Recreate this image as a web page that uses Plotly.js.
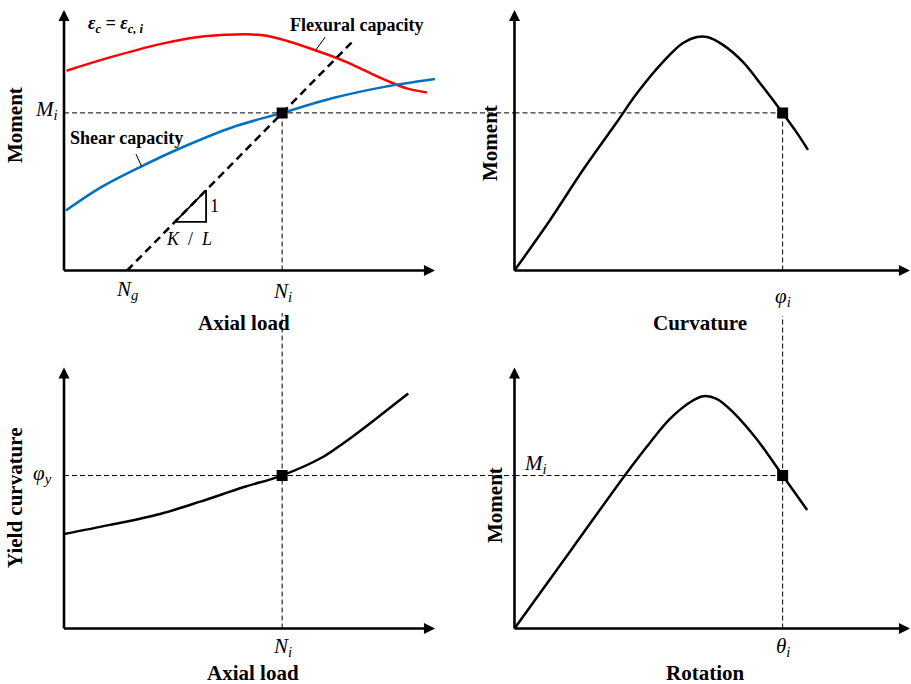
<!DOCTYPE html>
<html>
<head>
<meta charset="utf-8">
<script src="https://cdn.plot.ly/plotly-3.0.1.min.js"></script>
<style>html,body{margin:0;padding:0;background:#fff;}#chart{width:911px;height:684px;}</style>
</head>
<body>
<div id="chart"></div>
<script>
// ---- data (schematic units, 0..10 on every axis) ----
const flexX = [0.07, 1.24, 2.59, 3.67, 4.39, 4.92, 5.46, 6.0, 6.54, 7.08, 7.62, 8.16, 8.7, 9.24, 9.78];
const flexY = [7.67, 8.18, 8.69, 8.97, 9.05, 9.07, 9.01, 8.82, 8.57, 8.3, 8.0, 7.64, 7.29, 6.99, 6.83];
const shearX = [0.05, 0.97, 2.05, 3.21, 4.56, 5.88, 7.25, 8.6, 10.0];
const shearY = [2.3, 3.17, 3.97, 4.74, 5.51, 6.05, 6.62, 7.04, 7.35];
const Ng = 1.7, Ni = 5.88, Mi = 6.05;
const kX = [Ng, Ni, 7.75];
const kY = [0, Mi, 8.75];
const triX = [2.99, 3.83, 3.83, 2.99];
const triY = [1.87, 1.87, 3.08, 1.87];

const curvX = [0, 0.9, 1.73, 2.59, 3.1, 3.75, 4.26, 4.61, 4.87, 5.27, 5.78, 6.28, 6.78, 7.12, 7.42];
const curvY = [0, 1.94, 3.86, 5.7, 6.81, 8.0, 8.73, 8.96, 8.96, 8.66, 8.0, 7.05, 6.05, 5.33, 4.63];
const phiI = 6.78;

const ycX = [0, 1.24, 2.59, 3.67, 4.83, 5.87, 6.99, 7.53, 7.98, 8.52, 9.28];
const ycY = [3.62, 3.97, 4.39, 4.86, 5.41, 5.86, 6.58, 7.1, 7.57, 8.16, 9.0];
const phiY = 5.86;

const rotX = [0, 1.4, 2.84, 3.43, 3.93, 4.44, 4.77, 5.11, 5.53, 6.12, 6.78, 7.4];
const rotY = [0, 2.94, 5.97, 7.13, 8.03, 8.67, 8.9, 8.8, 8.28, 7.26, 5.86, 4.54];
const thetaI = 6.78, Mi2 = 5.86;

const axisMax = 10;

// ---- layout geometry ----
const W = 911, H = 684;
const col1 = [64 / W, 435 / W];
const col2 = [514.5 / W, 910 / W];
const row1 = [1 - 270.5 / H, 1 - 10 / H];
const row2 = [1 - 628.5 / H, 1 - 367.5 / H];
const px = v => v / W;
const py = v => 1 - v / H;

const FONT = 'Liberation Serif, Times New Roman, serif';
const BLACK = '#000000';

function axis(domain, anchor) {
  return {domain: domain, anchor: anchor, range: [0, axisMax], visible: false, fixedrange: true};
}

function curve(x, y, xa, ya, color, width, dash, shape) {
  return {x: x, y: y, xaxis: xa, yaxis: ya, mode: 'lines', hoverinfo: 'skip',
    line: {color: color, width: width, dash: dash || 'solid', shape: shape || 'spline', smoothing: 1}};
}
function marker(x, y, xa, ya) {
  return {x: [x], y: [y], xaxis: xa, yaxis: ya, mode: 'markers', hoverinfo: 'skip',
    marker: {symbol: 'square', size: 11, color: BLACK}};
}

const traces = [
  curve(flexX, flexY, 'x', 'y', '#FF0000', 2.5),
  curve(shearX, shearY, 'x', 'y', '#0070C0', 2.5),
  curve(kX, kY, 'x', 'y', BLACK, 2.5, '8px,5px', 'linear'),
  curve(triX, triY, 'x', 'y', BLACK, 1.8, 'solid', 'linear'),
  marker(Ni, Mi, 'x', 'y'),
  curve(curvX, curvY, 'x2', 'y2', BLACK, 2.5),
  marker(phiI, Mi, 'x2', 'y2'),
  curve(ycX, ycY, 'x3', 'y3', BLACK, 2.5),
  marker(Ni, phiY, 'x3', 'y3'),
  curve(rotX, rotY, 'x4', 'y4', BLACK, 2.5),
  marker(thetaI, Mi2, 'x4', 'y4')
];

const dashLine = {color: BLACK, width: 1, dash: '5px,3px'};
const shapes = [
  // row 1 horizontal at Mi
  {type: 'line', xref: 'paper', yref: 'y', x0: col1[0], x1: col2[0], y0: Mi, y1: Mi, line: dashLine, layer: 'below'},
  {type: 'line', xref: 'x2', yref: 'y2', x0: 0, x1: phiI, y0: Mi, y1: Mi, line: dashLine, layer: 'below'},
  // column 1 vertical at Ni
  {type: 'line', xref: 'x', yref: 'y', x0: Ni, x1: Ni, y0: 0, y1: Mi, line: dashLine, layer: 'below'},
  {type: 'line', xref: 'x', yref: 'paper', x0: Ni, x1: Ni, y0: row2[0], y1: py(313), line: dashLine, layer: 'below'},
  // column 2 vertical at phi_i / theta_i
  {type: 'line', xref: 'x2', yref: 'y2', x0: phiI, x1: phiI, y0: 0, y1: Mi, line: dashLine, layer: 'below'},
  {type: 'line', xref: 'x2', yref: 'paper', x0: phiI, x1: phiI, y0: row2[0], y1: py(316), line: dashLine, layer: 'below'},
  // row 2 horizontal at phi_y / Mi
  {type: 'line', xref: 'paper', yref: 'y3', x0: col1[0], x1: col2[0], y0: phiY, y1: phiY, line: dashLine, layer: 'below'},
  {type: 'line', xref: 'x4', yref: 'y4', x0: 0, x1: thetaI, y0: Mi2, y1: Mi2, line: dashLine, layer: 'below'},
  // leader lines
  {type: 'line', xref: 'x', yref: 'y', x0: 7.04, y0: 8.96, x1: 6.79, y1: 8.47, line: {color: BLACK, width: 1}},
  {type: 'line', xref: 'x', yref: 'y', x0: 1.94, y0: 4.47, x1: 2.09, y1: 4.0, line: {color: BLACK, width: 1}}
];

function axisArrow(xa, ya, horizontal) {
  return {xref: xa, yref: ya, axref: xa, ayref: ya,
    x: horizontal ? axisMax : 0, y: horizontal ? 0 : axisMax,
    ax: horizontal ? -0.04 : 0, ay: horizontal ? 0 : -0.06,
    text: '', showarrow: true, arrowhead: 2, arrowsize: 0.85, arrowwidth: 2.6, arrowcolor: BLACK};
}
function label(text, x, y, size, opts) {
  return Object.assign({xref: 'paper', yref: 'paper', x: x, y: y, text: text, showarrow: false,
    xanchor: 'center', yanchor: 'middle', font: {family: FONT, size: size, color: BLACK}}, opts || {});
}

const T = 21;   // axis title size
const S = 21;   // symbol label size
const annotations = [
  axisArrow('x', 'y', true), axisArrow('x', 'y', false),
  axisArrow('x2', 'y2', true), axisArrow('x2', 'y2', false),
  axisArrow('x3', 'y3', true), axisArrow('x3', 'y3', false),
  axisArrow('x4', 'y4', true), axisArrow('x4', 'y4', false),

  // panel 1
  label('<b><i>ε<sub>c</sub> = ε<sub>c, i</sub></i></b>', px(116), py(24), 18),
  label('<b>Flexural capacity</b>', px(356), py(25), 18),
  label('<b>Shear capacity</b>', px(126), py(138), 18),
  label('<i>M<sub>i</sub></i>', px(46), py(110), S),
  label('<i>N<sub>g</sub></i>', Ng, py(290), S, {xref: 'x'}),
  label('<i>N<sub>i</sub></i>', Ni, py(292), S, {xref: 'x'}),
  label('1', px(214), py(206), 18),
  label('<i>K</i>  /  <i>L</i>', px(189), py(239), 18),
  label('<b>Axial load</b>', px(244), py(323), T),
  label('<b>Moment</b>', px(15), py(125), T, {textangle: -90}),

  // panel 2
  label('<i>φ<sub>i</sub></i>', phiI, py(297), S, {xref: 'x2'}),
  label('<b>Curvature</b>', px(700), py(323), T),
  label('<b>Moment</b>', px(490), py(143), T, {textangle: -90}),

  // panel 3
  label('<i>φ<sub>y</sub></i>', px(42), py(474), S),
  label('<i>N<sub>i</sub></i>', Ni, py(647), S, {xref: 'x'}),
  label('<b>Axial load</b>', px(253), py(673), T),
  label('<b>Yield curvature</b>', px(15), py(498), T, {textangle: -90}),

  // panel 4
  label('<i>M<sub>i</sub></i>', px(535), py(464), S),
  label('<i>θ<sub>i</sub></i>', thetaI, py(647), S, {xref: 'x2'}),
  label('<b>Rotation</b>', px(705), py(673), T),
  label('<b>Moment</b>', px(495), py(505), T, {textangle: -90})
];

const layout = {
  width: W, height: H,
  margin: {l: 0, r: 0, t: 0, b: 0},
  paper_bgcolor: '#ffffff', plot_bgcolor: 'rgba(0,0,0,0)',
  showlegend: false,
  font: {family: FONT, color: BLACK},
  xaxis: axis(col1, 'y'), yaxis: axis(row1, 'x'),
  xaxis2: axis(col2, 'y2'), yaxis2: axis(row1, 'x2'),
  xaxis3: axis(col1, 'y3'), yaxis3: axis(row2, 'x3'),
  xaxis4: axis(col2, 'y4'), yaxis4: axis(row2, 'x4'),
  shapes: shapes,
  annotations: annotations
};

Plotly.newPlot('chart', traces, layout, {staticPlot: true, displayModeBar: false});
</script>
</body>
</html>
